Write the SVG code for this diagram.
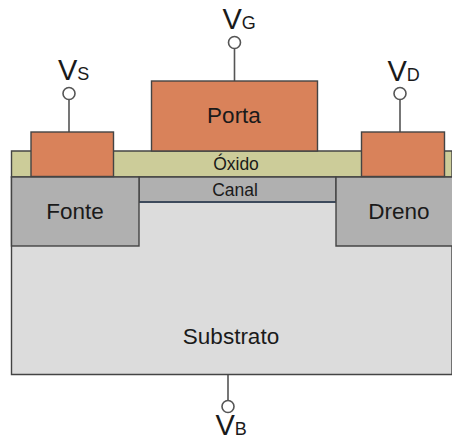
<svg xmlns="http://www.w3.org/2000/svg" width="452" height="437" viewBox="0 0 452 437">
<style>
.b{stroke:#444;stroke-width:1.4}
.m{fill:#d9825a}.ox{fill:#cccc99}.si{fill:#b0b0b0}.sub{fill:#dcdcdc}
.w{stroke:#555;stroke-width:1.6;fill:none}
.t{fill:#fff;stroke:#555;stroke-width:1.6}
text{font-family:"Liberation Sans",Arial,sans-serif;fill:#1a1a1a;text-anchor:middle}
.l{font-size:22.500px}.c{font-size:17.500px}
.v{font-size:29px;text-anchor:start}
.s{font-size:18px}
</style>
<rect width="452" height="437" fill="#fff"/>
<g id="connectors">
<path class="w" d="M69 99V132M234.500 48V81M400 99V132M228 374V407"/>
</g>
<g id="substrato"><path class="sub b" d="M11.500 177H452V374.500H11.500Z"/><text class="l" x="231" y="344">Substrato</text></g>
<g id="oxido"><path class="ox b" d="M11.500 151H452V177H11.500Z"/><text class="c" x="236" y="170">Óxido</text></g>
<g id="canal"><path class="si b" d="M139 177H336V202H139Z"/><path d="M139 202H336" stroke="#3d4a5c" stroke-width="2"/><text class="c" x="235" y="196">Canal</text></g>
<g id="fonte"><rect class="si b" x="11.500" y="177" width="127.500" height="69"/><text class="l" x="75" y="219">Fonte</text></g>
<g id="dreno"><path class="si b" d="M452 177H336V246H452"/><text class="l" x="399" y="219">Dreno</text></g>
<g id="contato-s"><rect class="m b" x="31" y="132" width="82.500" height="44.500"/></g>
<g id="porta"><rect class="m b" x="151.500" y="81" width="166" height="70"/><text class="l" x="234" y="123">Porta</text></g>
<g id="contato-d"><rect class="m b" x="361.500" y="132" width="83" height="44.500"/></g>
<g id="vs"><circle class="t" cx="69" cy="93.500" r="6"/><text class="v" x="58" y="80">V<tspan class="s">S</tspan></text></g>
<g id="vg"><circle class="t" cx="234.500" cy="42.500" r="6"/><text class="v" x="222.500" y="29">V<tspan class="s">G</tspan></text></g>
<g id="vd"><circle class="t" cx="400" cy="93.500" r="6"/><text class="v" x="387.500" y="81">V<tspan class="s">D</tspan></text></g>
<g id="vb"><circle class="t" cx="228" cy="406.500" r="6"/><text class="v" x="215.500" y="434.500">V<tspan class="s">B</tspan></text></g>
</svg>
